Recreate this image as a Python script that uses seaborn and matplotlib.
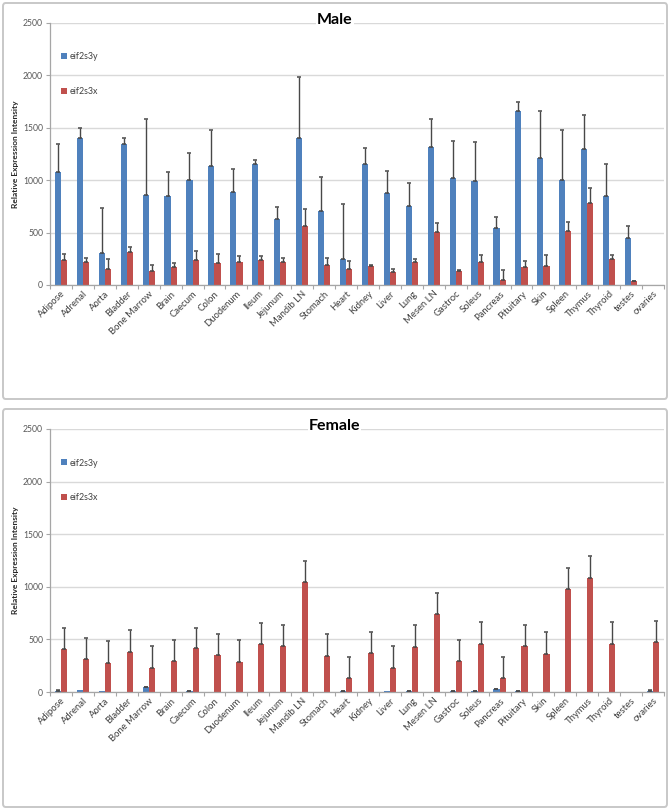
import numpy as np
import pandas as pd
import matplotlib
matplotlib.use("Agg")
import matplotlib.pyplot as plt
from matplotlib.patches import FancyBboxPatch
import seaborn as sns

tissues = ["Adipose", "Adrenal", "Aorta", "Bladder", "Bone Marrow", "Brain", "Caecum",
           "Colon", "Duodenum", "Ileum", "Jejunum", "Mandib LN", "Stomach", "Heart",
           "Kidney", "Liver", "Lung", "Mesen LN", "Gastroc", "Soleus", "Pancreas",
           "Pituitary", "Skin", "Spleen", "Thymus", "Thyroid", "testes", "ovaries"]

# Male panel
male_y = [1080, 1398, 302, 1341, 858, 845, 1004, 1135, 890, 1157, 629, 1398, 702, 251,
          1150, 874, 750, 1313, 1023, 988, 547, 1659, 1214, 1001, 1293, 845, 445, 0]
male_y_top = [1348, 1497, 731, 1405, 1586, 1077, 1255, 1478, 1109, 1189, 744, 1984, 1030, 775,
              1309, 1090, 972, 1583, 1370, 1360, 651, 1742, 1662, 1478, 1624, 1157, 563, 0]
male_x = [235, 222, 153, 311, 130, 172, 235, 213, 216, 242, 222, 566, 194, 156,
          181, 121, 219, 505, 130, 219, 48, 172, 184, 518, 785, 245, 35, 0]
male_x_top = [292, 254, 251, 365, 191, 213, 327, 292, 276, 276, 261, 728, 257, 229,
              194, 149, 251, 594, 140, 286, 143, 229, 283, 597, 928, 289, 41, 0]

# Female panel
female_y = [10, 15, 6, 2, 45, 2, 8, 2, 2, 2, 2, 2, 2, 5,
            2, 5, 5, 2, 6, 6, 30, 12, 2, 2, 2, 2, 0, 10]
female_y_top = [18, 15, 6, 2, 52, 2, 14, 2, 2, 2, 2, 2, 2, 10,
                2, 5, 10, 2, 12, 12, 32, 14, 2, 2, 2, 2, 0, 16]
female_x = [405, 310, 274, 383, 230, 297, 415, 348, 287, 455, 436, 1041, 344, 131,
            373, 232, 430, 739, 296, 459, 131, 436, 363, 975, 1083, 455, 0, 471]
female_x_top = [606, 511, 482, 590, 437, 495, 613, 552, 490, 659, 637, 1242, 554, 331,
                573, 436, 634, 939, 497, 662, 331, 637, 567, 1175, 1290, 662, 0, 678]

genes = ["eif2s3y", "eif2s3x"]
colors = ["#4F81BD", "#C0504D"]
y_ticks = [0, 500, 1000, 1500, 2000, 2500]

sns.set_theme(style="white")
plt.rcParams["font.family"] = ["Lato", "DejaVu Sans"]

fig = plt.figure(figsize=(6.7, 8.1), dpi=100)

# panel borders
for (x0, y0, x1, y1) in [(3, 3, 667, 399), (3, 409, 667, 807)]:
    fig.patches.append(FancyBboxPatch((x0 / 670, 1 - y1 / 810), (x1 - x0) / 670, (y1 - y0) / 810,
                                      boxstyle="round,pad=0,rounding_size=0.004",
                                      transform=fig.transFigure, fc="none", ec="#c8c8c8",
                                      lw=1.4, zorder=-1))

panels = [
    ("Male", male_y, male_y_top, male_x, male_x_top, [50 / 670, 1 - 285 / 810, 614 / 670, 262 / 810]),
    ("Female", female_y, female_y_top, female_x, female_x_top, [50 / 670, 1 - 692 / 810, 614 / 670, 263 / 810]),
]

for title, vy, vy_top, vx, vx_top, rect in panels:
    ax = fig.add_axes(rect)
    ax.patch.set_alpha(0)
    df = pd.DataFrame({
        "tissue": tissues * 2,
        "value": vy + vx,
        "gene": [genes[0]] * len(tissues) + [genes[1]] * len(tissues),
    })
    sns.barplot(data=df, x="tissue", y="value", hue="gene", hue_order=genes,
                palette=colors, width=0.56, errorbar=None, saturation=1,
                ax=ax, zorder=2, linewidth=0)
    tops = [vy_top, vx_top]
    for cont, top in zip(ax.containers, tops):
        xs, hs, es = [], [], []
        for bar, t in zip(cont, top):
            h = bar.get_height()
            if t > h:
                xs.append(bar.get_x() + bar.get_width() / 2)
                hs.append(h)
                es.append(t - h)
        ax.errorbar(xs, hs, yerr=[np.zeros(len(es)), es], fmt="none",
                    ecolor="#484848", elinewidth=1.0, capsize=1.6, capthick=1.1, zorder=3)

    ax.set_ylim(0, 2500)
    ax.set_xlim(-0.5, len(tissues) - 0.5)
    ax.set_yticks(y_ticks)
    ax.set_yticklabels([str(v) for v in y_ticks], fontsize=6.2, color="#595959")
    ax.set_xticks(range(len(tissues)))
    ax.set_xticklabels(tissues, rotation=45, ha="right", rotation_mode="anchor",
                       fontsize=6.8, color="#404040")
    ax.set_xticks(np.arange(len(tissues) + 1) - 0.5, minor=True)
    ax.tick_params(axis="x", which="major", length=0, pad=3)
    ax.tick_params(axis="x", which="minor", length=3, color="#a6a6a6", width=0.8, bottom=True)
    ax.tick_params(axis="y", length=3, color="#a6a6a6", width=0.8, left=True, pad=2)
    ax.yaxis.grid(True, color="#d9d9d9", lw=1.0)
    ax.set_axisbelow(True)
    for s in ["top", "right"]:
        ax.spines[s].set_visible(False)
    for s in ["left", "bottom"]:
        ax.spines[s].set_color("#a6a6a6")
        ax.spines[s].set_linewidth(0.9)
    ax.set_xlabel("")
    ax.set_ylabel("Relative Expression Intensity", fontsize=6, fontweight="bold",
                  color="#262626")
    ax.yaxis.set_label_coords(-(50 - 19) / 614, 0.5)
    ax.text(0.464, 1.012, title, transform=ax.transAxes, ha="center", va="center",
            fontsize=11.5, fontweight="bold", color="black",
            bbox=dict(fc="white", ec="none", pad=0.6), zorder=5)
    ax.legend(loc="upper left", bbox_to_anchor=(0.005, 0.918), frameon=False,
              fontsize=6.4, labelspacing=2.9, handlelength=0.65, handleheight=0.65,
              handletextpad=0.3, labelcolor="#404040")

fig.savefig("out.png", dpi=100)
